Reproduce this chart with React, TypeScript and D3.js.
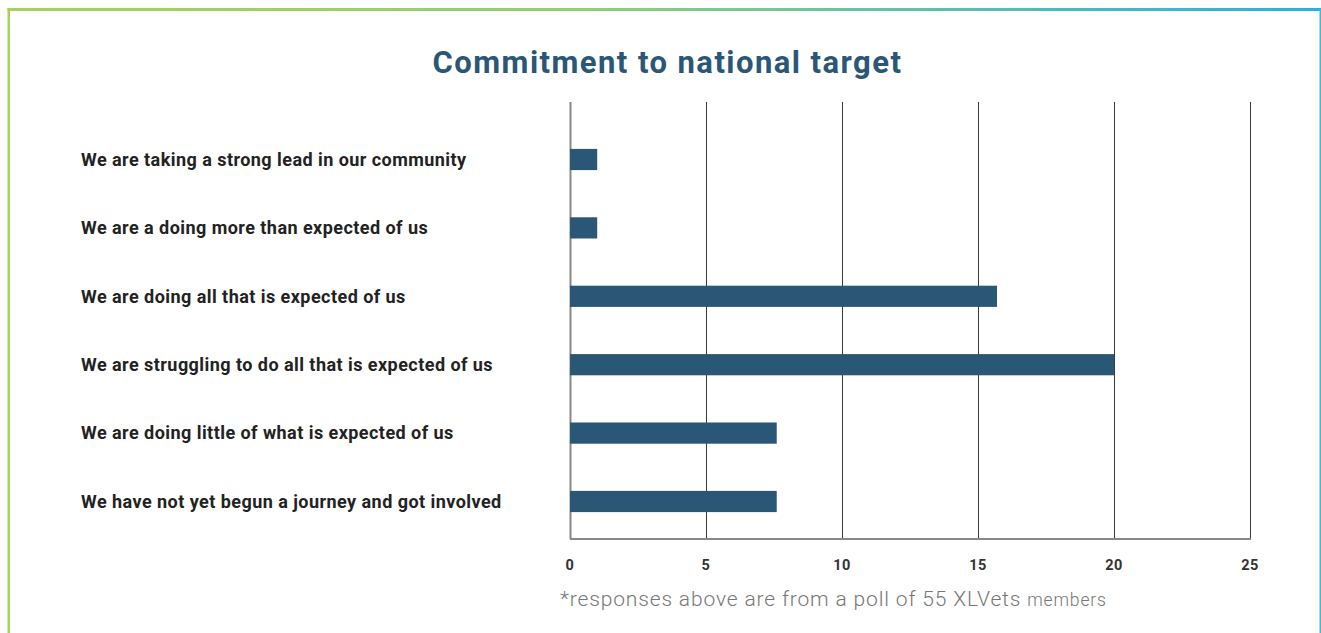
import React from "react";
import * as d3 from "d3";

const categories = [
  "We are taking a strong lead in our community",
  "We are a doing more than expected of us",
  "We are doing all that is expected of us",
  "We are struggling to do all that is expected of us",
  "We are doing little of what is expected of us",
  "We have not yet begun a journey and got involved",
];
const values = [1, 1, 15.7, 20, 7.6, 7.6];
const xTicks = [0, 5, 10, 15, 20, 25];
const title = "Commitment to national target";
const footnoteMain = "*responses above are from a poll of 55 XLVets ";
const footnoteSmall = "members";

const W = 1321;
const H = 633;
const FONT = "Roboto, 'Open Sans', sans-serif";

export default function App() {
  const x = d3.scaleLinear().domain([0, 25]).range([570, 1250]);
  const y = d3
    .scaleBand<string>()
    .domain(categories)
    .range([125.3, 535.7])
    .paddingInner(0.69)
    .paddingOuter(0.345);
  const plotTop = 102;
  const plotBottom = 539;

  return (
    <svg
      width={W}
      height={H}
      style={{ position: "absolute", left: 0, top: 0, background: "#fff" }}
      fontFamily={FONT}
    >
      <defs>
        <linearGradient id="topGrad" x1="0" x2="1" y1="0" y2="0">
          <stop offset="0%" stopColor="#a6d25c" />
          <stop offset="45%" stopColor="#8fcd7a" />
          <stop offset="100%" stopColor="#2aaee3" />
        </linearGradient>
      </defs>
      {/* frame */}
      <rect x={7.5} y={8} width={1313.5} height={3} fill="url(#topGrad)" />
      <rect x={7.5} y={8} width={2.5} height={H} fill="#a6d25c" />
      <rect x={1319.5} y={9} width={1.5} height={H} fill="#3bb8e6" />

      {/* title */}
      <text
        x={667.5}
        y={73}
        textAnchor="middle"
        fontSize={31}
        fontWeight={700}
        letterSpacing={1.45}
        fill="#2b5777"
      >
        {title}
      </text>

      {/* gridlines */}
      {xTicks.map((t) => (
        <line
          key={"g" + t}
          x1={x(t) + 0.5}
          x2={x(t) + 0.5}
          y1={plotTop}
          y2={plotBottom}
          stroke={t === 0 ? "#888" : "#3a3a3a"}
          strokeWidth={t === 0 ? 2 : 1}
        />
      ))}
      <line
        x1={x(0)}
        x2={x(25) + 1}
        y1={plotBottom}
        y2={plotBottom}
        stroke="#888"
        strokeWidth={2}
      />

      {/* bars */}
      {categories.map((c, i) => (
        <rect
          key={c}
          x={x(0)}
          y={y(c)!}
          width={x(values[i]) - x(0)}
          height={y.bandwidth()}
          fill="#2b5777"
        />
      ))}

      {/* category labels */}
      {categories.map((c) => (
        <text
          key={"l" + c}
          x={81}
          y={y(c)! + y.bandwidth() / 2}
          dy="0.35em"
          fontSize={18}
          fontWeight={700}
          letterSpacing={0.45}
          fill="#222"
        >
          {c}
        </text>
      ))}

      {/* x tick labels */}
      {xTicks.map((t) => (
        <text
          key={"t" + t}
          x={x(t)}
          y={570}
          textAnchor="middle"
          fontSize={14.5}
          fontWeight={700}
          letterSpacing={0.5}
          fill="#333"
        >
          {t}
        </text>
      ))}

      {/* footnote */}
      <text
        x={560}
        y={606}
        fontSize={21}
        fill="#777"
        fontWeight={300}
        letterSpacing={0.85}
      >
        {footnoteMain}
        <tspan fontSize={17.5}>{footnoteSmall}</tspan>
      </text>
    </svg>
  );
}
